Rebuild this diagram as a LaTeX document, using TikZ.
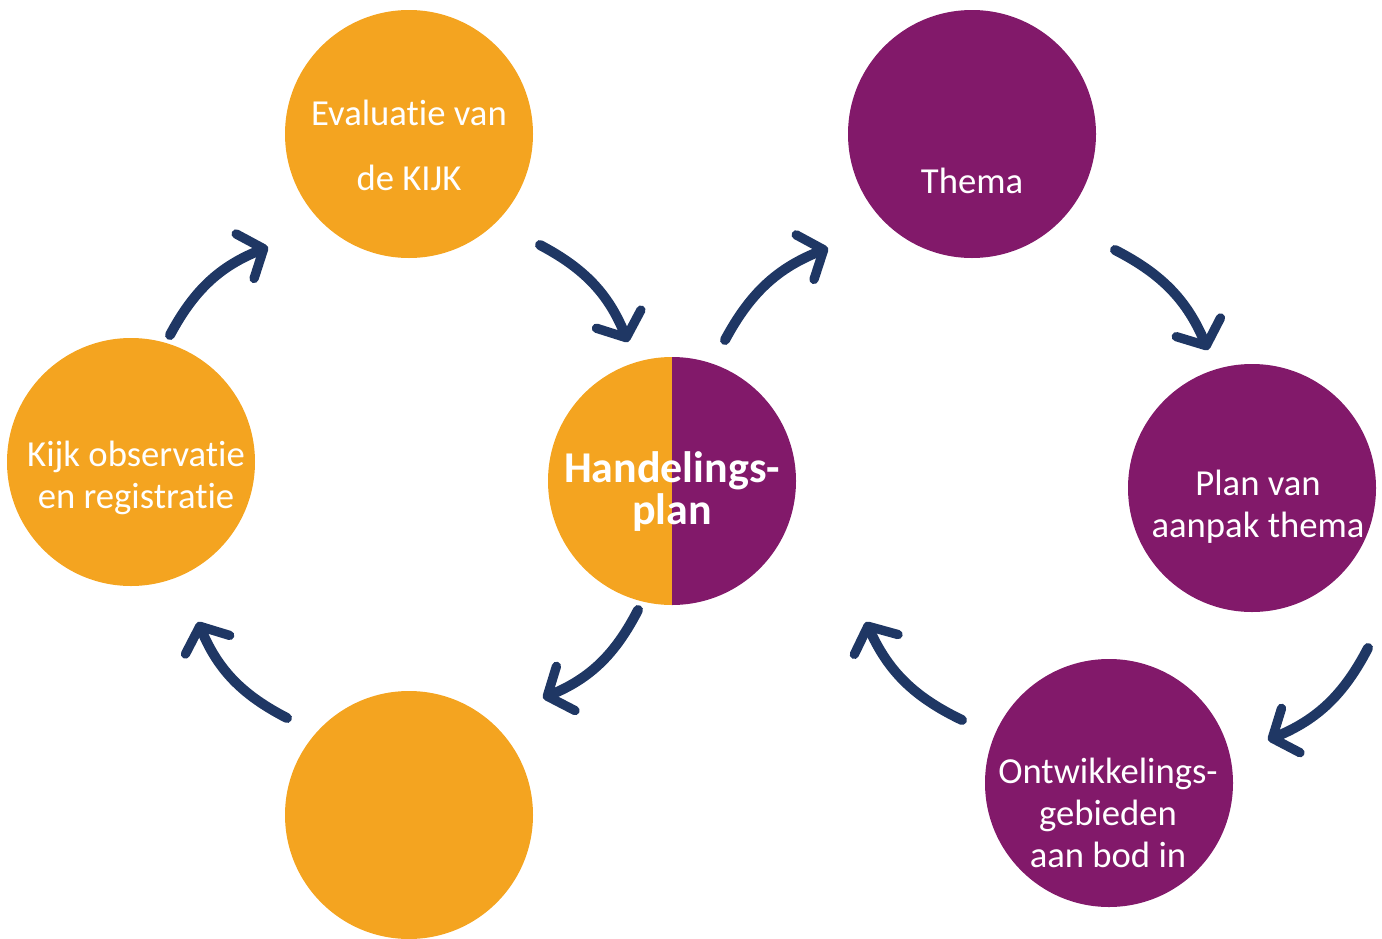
\documentclass[tikz,border=0pt]{standalone}
\usepackage{fontspec}
\setmainfont[Ligatures=NoCommon]{Carlito}
\usetikzlibrary{arrows.meta}
\definecolor{orng}{RGB}{244,164,32}
\definecolor{purp}{RGB}{130,25,106}
\definecolor{navy}{RGB}{31,55,100}
\begin{document}
\begin{tikzpicture}[x=0.75pt,y=-0.75pt,
  circ/.style={circle,minimum size=186pt,inner sep=0pt},
  lbl/.style={text=white,font=\fontsize{27.5}{31.5}\selectfont,align=center,inner sep=0pt},
  flow/.style={draw=navy,line width=7.5pt,line cap=round,
    -{Straight Barb[length=15pt,width=36pt,line width=7pt,round]},bend left=20}]
\useasboundingbox (0,0) rectangle (1382,939);
% circles
\node[circ,fill=orng] (eval) at (409,134) {};
\node[circ,fill=purp] (thema) at (972,134) {};
\node[circ,fill=orng] (kijk) at (131,462) {};
\node[circ,fill=purp] (plan) at (1252,488) {};
\node[circ,fill=orng] (bottom) at (409,815) {};
\node[circ,fill=purp] (ontw) at (1109,783) {};
\node[circ] (hp) at (672,481) {};
\begin{scope}
  \clip (hp.center) circle[radius=124];
  \fill[orng] (540,350) rectangle (672,610);
  \fill[purp] (672,350) rectangle (805,610);
\end{scope}
% texts
\node[lbl,font=\fontsize{27.5}{48.75}\selectfont] (teval) at (409,145) {Evaluatie van\\de KIJK};
\node[lbl] (tthema) at (972,181) {Thema};
\node[lbl] (tkijk) at (136,478) {Kijk observatie\\en registratie};
\node[lbl] (tplan) at (1258,507) {Plan van\\aanpak thema};
\node[lbl] (tontw) at (1108,813) {Ontwikkelings-\\gebieden\\aan bod in};
\node[lbl,font=\bfseries\fontsize{33}{31.5}\selectfont] (thp) at (672,492) {Handelings-\\plan};
% arrow end points
\coordinate (s1) at (170,335); \coordinate (e1) at (268,247);
\coordinate (s2) at (540,245); \coordinate (e2) at (628,342);
\coordinate (s3) at (725,340); \coordinate (e3) at (828,248);
\coordinate (s4) at (1115,250); \coordinate (e4) at (1208,350);
\coordinate (s5) at (1368,648); \coordinate (e5) at (1268,740);
\coordinate (s6) at (962,720); \coordinate (e6) at (866,622);
\coordinate (s7) at (638,610); \coordinate (e7) at (543,698);
\coordinate (s8) at (287,718); \coordinate (e8) at (198,622);
\foreach \i in {1,...,8} {\draw[flow] (s\i) to (e\i);}
\end{tikzpicture}
\end{document}
